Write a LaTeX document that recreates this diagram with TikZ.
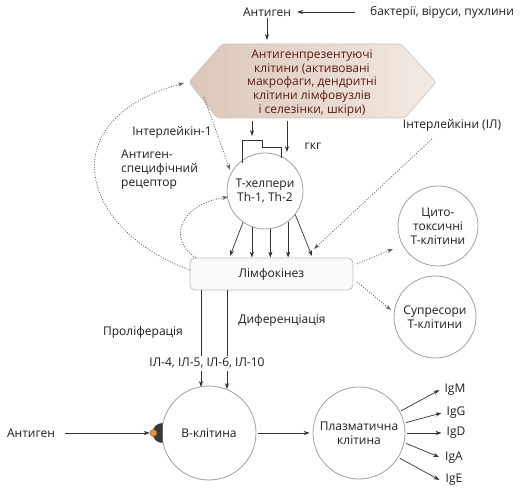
\documentclass[tikz,border=0pt]{standalone}
\usepackage{fontspec}
\setmainfont{Open Sans}
\usetikzlibrary{arrows.meta,calc,shapes.geometric}
\definecolor{txt}{HTML}{1E1E1E}
\definecolor{ln}{HTML}{333333}
\definecolor{hexL}{HTML}{DCC7B8}
\definecolor{hexR}{HTML}{F2EBE5}
\definecolor{hexT}{HTML}{5E1A10}
\definecolor{circ}{HTML}{A0A0A0}
\tikzset{
  lbl/.style={font=\fontsize{12}{14}\selectfont, text=txt, inner sep=1pt, align=center},
  cellc/.style={circle, draw=circ, line width=0.8pt, fill=white, minimum size=#1, inner sep=0pt, font=\fontsize{12}{14}\selectfont, text=txt, align=center},
  arr/.style={draw=ln, line width=0.7pt, -{Stealth[length=6pt,width=4.2pt]}},
  plain/.style={draw=ln, line width=0.7pt},
  dott/.style={draw=gray!75!black, line width=0.8pt, dash pattern=on 1pt off 1.6pt, -{Stealth[length=6pt,width=4.2pt]}},
}
\begin{document}
\begin{tikzpicture}[x=1pt,y=-1pt]
\useasboundingbox (0,0) rectangle (531,494);
% top
\node[lbl] (ag1) at (267,12) {Антиген};
\node[lbl] (bvp) at (442,12) {бактерії, віруси, пухлини};
\draw[arr] ($(bvp.west)+(-14,0)$) -- ($(ag1.east)+(5,0)$);
% hexagon
\coordinate (hA) at (189,82);
\coordinate (hB) at (222,44);
\coordinate (hC) at (401,44);
\coordinate (hD) at (436,82);
\coordinate (hE) at (405,118);
\coordinate (hF) at (217,118);
\begin{scope}
\clip[rounded corners=3pt] (hA) -- (hB) -- (hC) -- (hD) -- (hE) -- (hF) -- cycle;
\foreach \i in {0,...,24}{
  \pgfmathtruncatemacro{\p}{\i*4}
  \fill[hexR!\p!hexL] (189+\i*9.9,40) rectangle (189+\i*9.9+10.5,122);
}
\end{scope}
\draw[hexL!85!black!70!white, line width=0.6pt, rounded corners=3pt]
  (hA) -- (hB) -- (hC) -- (hD) -- (hE) -- (hF) -- cycle;
\node[font=\fontsize{12}{13.8}\selectfont, text=hexT, align=center, inner sep=0pt] (apc) at (312,83)
  {Антигенпрезентуючі\\клітини (активовані\\макрофаги, дендритні\\клітини лімфовузлів\\і селезінки, шкіри)};
\coordinate (hexN) at (267,40);
\draw[arr] (ag1.south) -- (hexN);
% T-helper
\node[cellc=76pt] (T) at (265,191) {Т-хелпери\\Th-1, Th-2};
\coordinate (hb1) at (252,121);
\coordinate (hb1e) at (252,136);
\draw[arr] (hb1) -- (hb1e);
\coordinate (hb2) at (287,121);
\coordinate (hb2e) at (287,152);
\draw[arr] (hb2) -- (hb2e);
% receptor step
\coordinate (r0) at (242,163);
\coordinate (r1) at (242,140);
\coordinate (r2) at (262,140);
\coordinate (r3) at (262,147);
\coordinate (r4) at (281,147);
\coordinate (r5) at (281,158);
\draw[plain] (r0) -- (r1) -- (r2) -- (r3) -- (r4) -- (r5);
\node[lbl] (gkg) at (313,146) {гкг};
% labels left
\node[lbl] (il1) at (172,132) {Інтерлейкін-1};
\node[lbl, align=left, anchor=west] (asr) at (120,170) {Антиген-\\специфічний\\рецептор};
% lymphokinesis box
\node[draw=gray!50, line width=0.8pt, fill=gray!4, rounded corners=5pt, minimum width=163pt, minimum height=32pt, inner sep=0pt, font=\fontsize{12}{14}\selectfont, text=txt] (L) at (271.5,274) {Лімфокінез};
% arrows T -> L
\draw[arr] (T.-125) -- (230,256);
\draw[arr] (T.-110) -- (T.-110 |- L.north);
\draw[arr] (T.-82) -- (T.-82 |- L.north);
\draw[arr] (T.-53) -- (T.-53 |- L.north);
\draw[arr] (T.-38) -- (312,256);
% interleukins IL
\node[lbl] (ilr) at (452,125) {Інтерлейкіни (ІЛ)};
\coordinate (ilrS) at (432,139);
\coordinate (ilrE) at (314,249);
\draw[dott] (ilrS) -- (ilrE);
% cyto / supr
\node[cellc=80pt] (C) at (438,226) {Цито-\\токсичні\\Т-клітини};
\node[cellc=82pt] (S) at (435,317) {Супресори\\Т-клітини};
\coordinate (LC) at (357,264);
\coordinate (LS) at (357,282);
\draw[dott] (LC) -- (393,249);
\draw[dott] (LS) -- (391,310);
% left dotted curves
\coordinate (bigS) at (190,270);
\coordinate (bigE) at (184,83);
\draw[dott] (bigS) .. controls (80,230) and (50,120) .. (bigE);
\coordinate (smS) at (196,258);
\coordinate (smE) at (228,197);
\draw[dott] (smS) .. controls (168,240) and (178,205) .. (smE);
\coordinate (i1S) at (204,97);
\coordinate (i1E) at (230,170);
\draw[dott] (i1S) -- (i1E);
% lines down
\node[lbl] (pro) at (143,332) {Проліферація};
\node[lbl] (dif) at (282,320) {Диференціація};
\node[lbl] (ils) at (207,363) {ІЛ-4, ІЛ-5, ІЛ-6, ІЛ-10};
\node[cellc=94pt] (B) at (209,433) {В-клітина};
\coordinate (x1) at (201,0);
\coordinate (x2) at (227,0);
\draw[plain] (L.south -| x1) -- ($(ils.north -| x1)+(0,-1)$);
\draw[plain] (L.south -| x2) -- ($(ils.north -| x2)+(0,-1)$);
\draw[arr] ($(ils.south -| x1)+(0,2)$) -- (201,387);
\draw[arr] ($(ils.south -| x2)+(0,2)$) -- (227,389);
% bottom left antigen
\node[lbl] (ag2) at (31,433) {Антиген};
\fill[gray!45!black] (162.5,423) arc[start angle=-90, end angle=-270, radius=10] -- cycle;
\node[circle, fill=orange!75!brown!85, draw=brown!70!black, line width=0.5pt, minimum size=7pt, inner sep=0pt] (dot) at (153.5,433) {};
\draw[arr] (65,433) -- (dot.west);
% plasma
\node[cellc=92pt] (P) at (359,433) {Плазматична\\клітина};
\draw[arr] ($(B.east)+(2,0)$) -- ($(P.west)+(-3,0)$);
\node[lbl] (igm) at (455,390) {IgM};
\node[lbl] (igg) at (456,413) {IgG};
\node[lbl] (igd) at (456,433) {IgD};
\node[lbl] (iga) at (454,458) {IgA};
\node[lbl] (ige) at (454,480) {IgE};
\draw[arr] ($(P.30)+(2,1)$) -- ($(igm.west)+(-4,0)$);
\draw[arr] ($(P.13)+(2,0)$) -- ($(igg.west)+(-4,0)$);
\draw[arr] ($(P.0)+(2,0)$) -- ($(igd.west)+(-4,0)$);
\draw[arr] ($(P.-13)+(2,0)$) -- ($(iga.west)+(-5,-1)$);
\draw[arr] ($(P.-33)+(2,0)$) -- ($(ige.west)+(-5,0)$);
\end{tikzpicture}
\end{document}
